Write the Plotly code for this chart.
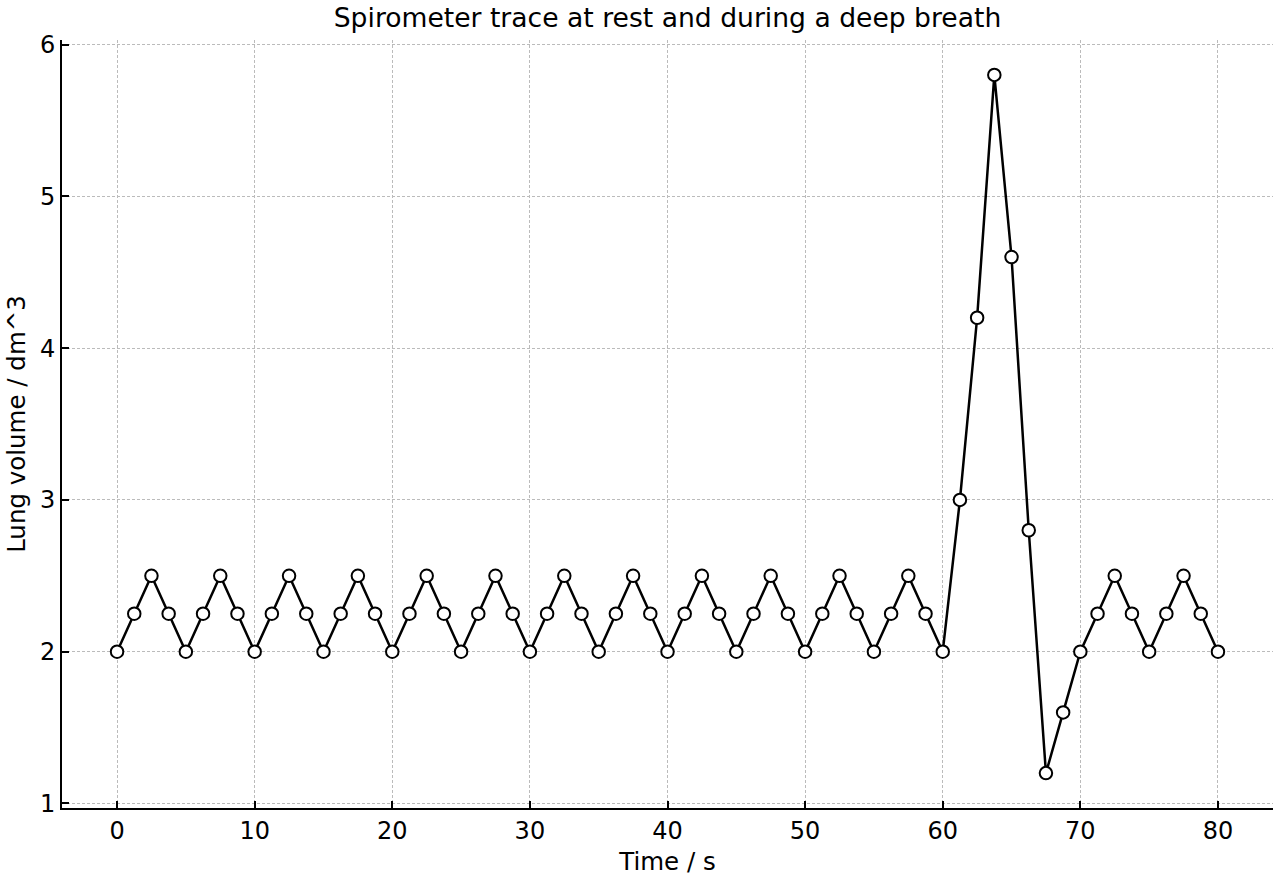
import plotly.graph_objects as go

time_s = [i * 1.25 for i in range(65)]
volume_rest = [2.0, 2.25, 2.5, 2.25] * 12 + [2.0]
volume_deep = [3.0, 4.2, 5.8, 4.6, 2.8, 1.2, 1.6, 2.0]
volume_after = [2.25, 2.5, 2.25, 2.0, 2.25, 2.5, 2.25, 2.0]
volume = volume_rest + volume_deep + volume_after

x_ticks = [0, 10, 20, 30, 40, 50, 60, 70, 80]
y_ticks = [1, 2, 3, 4, 5, 6]

fig = go.Figure(go.Scatter(
    x=time_s, y=volume, mode="lines+markers",
    line=dict(color="black", width=2.5),
    marker=dict(size=12.5, color="white", line=dict(color="black", width=2)),
))

fig.update_layout(
    width=1280, height=880,
    margin=dict(l=62, r=7, t=40, b=72),
    plot_bgcolor="white", paper_bgcolor="white",
    font=dict(family="DejaVu Sans", size=24, color="black"), showlegend=False,
    title=dict(text="Spirometer trace at rest and during a deep breath",
               x=0.5, xref="paper", xanchor="center", y=1, yref="container",
               yanchor="top", pad=dict(t=8), font=dict(family="DejaVu Sans", size=26.6, color="black")),
)
common = dict(ticks="inside", ticklen=7, tickwidth=2, tickcolor="black",
              showline=True, linecolor="black", linewidth=2, mirror=False,
              showgrid=True, gridcolor="#bbbbbb", griddash="3px,2px", gridwidth=1, zeroline=False,
              tickfont=dict(family="DejaVu Sans", size=24, color="black"))
fig.update_xaxes(
    range=[-4, 84], tickvals=x_ticks,
    title=dict(text="Time / s", font=dict(family="DejaVu Sans", size=24.5, color="black"), standoff=9),
    **common,
)
fig.update_yaxes(
    range=[0.97, 6.03], tickvals=y_ticks,
    title=dict(text="Lung volume / dm^3", font=dict(family="DejaVu Sans", size=24.5, color="black"), standoff=7),
    **common,
)
fig.write_html("out.html")
